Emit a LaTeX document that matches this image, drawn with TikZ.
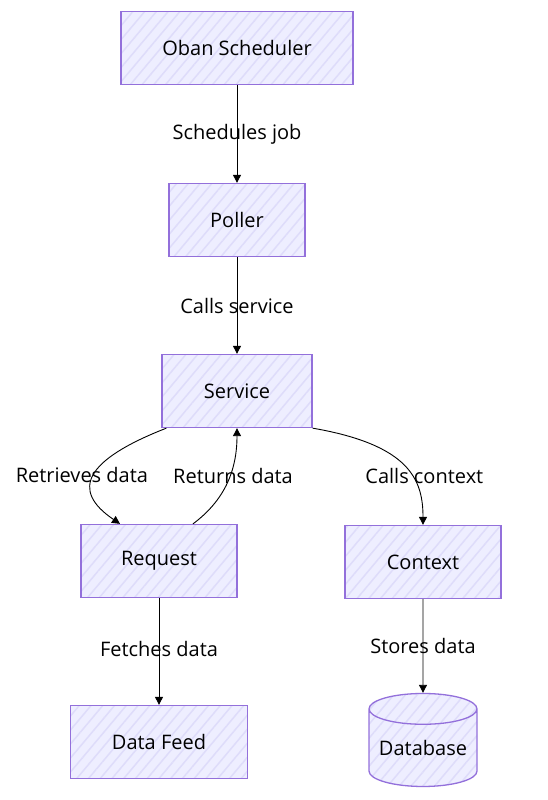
\documentclass[tikz,border=0pt]{standalone}
\usepackage{fontspec}
\setmainfont{Open Sans}
\usetikzlibrary{shapes.geometric,arrows.meta,patterns.meta}
\definecolor{boxfill}{RGB}{238,238,255}
\definecolor{hatch}{RGB}{222,220,250}
\definecolor{boxline}{RGB}{147,112,219}
\tikzset{box/.style = {draw=boxline, line width=1.3pt, preaction={fill=boxfill},
                       preaction={pattern={Lines[angle=50,distance=9pt,line width=1.5pt]}, pattern color=hatch},
                       minimum height=73, inner sep=0pt, font=\fontsize{20}{24}\selectfont}}
\tikzset{db/.style = {box, cylinder, shape border rotate=90, aspect=0.35,
                      minimum width=108, minimum height=93}}
\tikzset{edge/.style = {line width=0.9pt, -{Triangle[length=8pt,width=8pt]}}}
\tikzset{lbl/.style = {font=\fontsize{20}{24}\selectfont, inner sep=0pt}}

\begin{document}
\begin{tikzpicture}[x=1pt, y=-1pt]
      \useasboundingbox (0,0) rectangle (547,800);
      \node[box, minimum width=232] (sched) at (237,48) {Oban Scheduler};
      \node[box, minimum width=136] (poller) at (237,220) {Poller};
      \node[box, minimum width=150] (service) at (237,391) {Service};
      \node[box, minimum width=156] (request) at (159,561) {Request};
      \node[box, minimum width=156] (context) at (423,562) {Context};
      \node[box, minimum width=177] (feed) at (159,742) {Data Feed};
      \node[db] (database) at (423,748) {Database};
      \draw[edge] (sched) -- node[lbl] {Schedules job} (poller);
      \draw[edge] (poller) -- node[lbl] {Calls service} (service);
      \draw[edge] ([xshift=5pt]service.south west) .. controls (85,460) and (70,490) .. ([xshift=-39pt]request.north)
            node[lbl, pos=0.5, xshift=-12pt] {Retrieves data};
      \draw[edge] ([xshift=34pt]request.north) .. controls (225,500) and (237,470) .. (service.south)
            node[lbl, pos=0.5, xshift=6pt, yshift=7pt] {Returns data};
      \draw[edge] (service.south east) .. controls (410,445) and (423,480) .. (context.north)
            node[lbl, pos=0.5, xshift=20pt, yshift=-10pt] {Calls context};
      \draw[edge] (request) -- node[lbl, yshift=3pt] {Fetches data} (feed);
      \draw[edge] (context) -- node[lbl] {Stores data} (database);
    \end{tikzpicture}
\end{document}
